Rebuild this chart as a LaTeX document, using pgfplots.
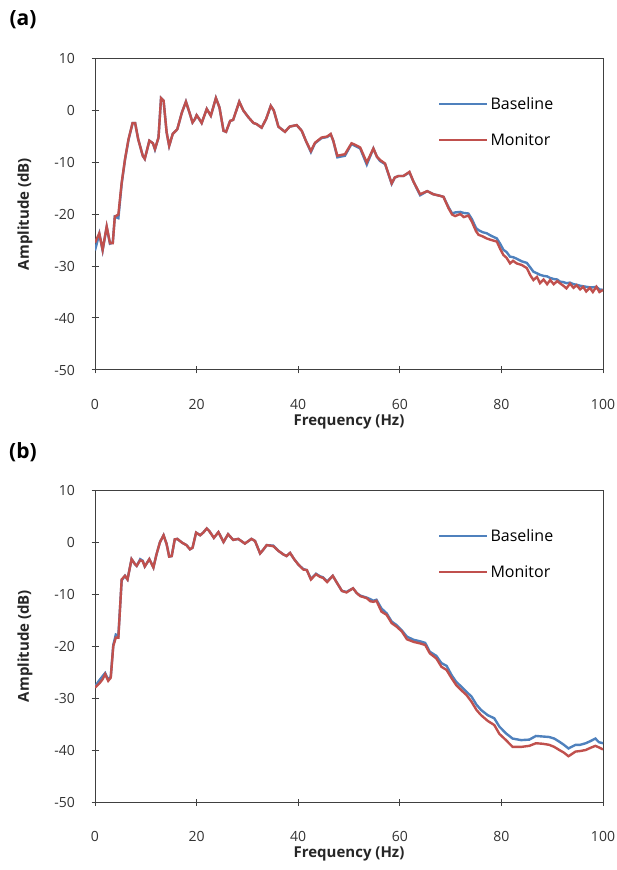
\documentclass[border=0pt]{standalone}
\usepackage{fontspec}
\setmainfont{Open Sans}
\usepackage{pgfplots}
\usepackage{pgfplotstable}
\pgfplotsset{compat=1.18}

\definecolor{xlblue}{RGB}{79,129,189}
\definecolor{xlred}{RGB}{192,80,77}

% panel (a): frequency, baseline, monitor
\pgfplotstableread{
f b m
0 -27.0 -25.5
0.85 -23.8 -23.7
1.5 -27.0 -26.9
2.3 -22.5 -22.4
2.95 -25.7 -25.6
3.5 -25.5 -25.6
3.9 -20.5 -20.5
4.6 -20.8 -20.1
5.25 -14.2 -14.0
5.9 -9.6 -9.5
6.6 -5.7 -5.6
7.4 -2.5 -2.5
7.9 -2.5 -2.5
8.5 -5.6 -5.6
9.4 -8.8 -8.8
9.8 -9.4 -9.4
10.7 -5.9 -5.9
11.4 -6.4 -6.4
11.8 -7.6 -7.5
12.5 -5.3 -5.3
13.0 2.3 2.3
13.5 1.8 1.8
14.1 -4.3 -4.3
14.6 -6.9 -6.9
15.3 -4.6 -4.6
16.2 -3.7 -3.7
17.1 -0.5 -0.5
17.9 1.6 1.6
18.6 -0.5 -0.5
19.2 -2.4 -2.4
19.7 -1.7 -1.7
20.0 -1.0 -1.0
20.5 -1.7 -1.7
21.0 -2.5 -2.5
22.0 0.2 0.2
22.8 -1.1 -1.1
23.8 2.3 2.3
24.5 0.5 0.5
25.3 -4.0 -4.0
25.8 -4.2 -4.2
26.6 -2.1 -2.1
27.2 -1.9 -1.9
28.4 1.6 1.6
29.2 -0.1 -0.1
30.2 -1.4 -1.4
31.2 -2.5 -2.5
31.8 -2.7 -2.7
32.8 -3.4 -3.4
33.7 -1.7 -1.7
34.6 0.8 0.8
35.2 -0.1 -0.1
36.1 -3.2 -3.2
37.4 -4.2 -4.2
38.3 -3.2 -3.2
39.7 -2.9 -2.9
40.7 -4.0 -4.0
41.5 -5.9 -5.9
42.5 -8.1 -7.9
43.3 -6.4 -6.3
44.6 -5.4 -5.3
45.7 -5.2 -5.1
46.4 -4.7 -4.6
46.9 -5.9 -5.9
47.7 -9.1 -8.8
49.2 -8.8 -8.5
50.5 -6.5 -6.4
51.0 -6.8 -6.6
52.2 -7.4 -7.2
53.5 -10.5 -10.1
54.8 -7.4 -7.4
55.5 -9.0 -9.0
56.1 -9.8 -9.6
57.1 -10.4 -10.3
58.4 -14.2 -14.1
59.0 -13.0 -13.0
59.7 -12.7 -12.7
60.7 -12.7 -12.7
61.9 -12.0 -11.9
62.7 -13.8 -13.8
64.0 -16.4 -16.2
65.4 -15.6 -15.6
66.6 -16.2 -16.2
67.9 -16.5 -16.5
68.6 -16.7 -16.7
69.6 -18.7 -18.9
70.3 -19.9 -20.1
70.9 -19.7 -20.4
71.9 -19.6 -20.0
72.6 -19.8 -20.6
73.5 -19.9 -20.3
74.2 -21.0 -21.5
75.0 -22.7 -23.3
75.5 -23.1 -24.0
76.3 -23.5 -24.3
77.1 -23.7 -24.7
78.0 -24.2 -25.0
79.1 -24.7 -25.3
79.8 -25.8 -26.8
80.4 -26.9 -27.9
81.0 -27.3 -28.4
81.7 -28.2 -29.5
82.3 -28.3 -29.0
83.0 -28.6 -29.5
84.0 -29.1 -29.8
85.0 -29.4 -30.4
85.7 -30.3 -31.8
86.3 -31.1 -32.7
87.0 -31.4 -32.1
87.6 -31.7 -33.3
88.3 -31.9 -32.6
89.0 -32.0 -33.5
89.6 -32.3 -32.7
90.3 -32.5 -33.5
91.0 -32.6 -32.9
91.5 -33.0 -33.3
92.2 -33.1 -33.8
92.8 -33.3 -34.3
93.5 -33.2 -33.4
94.2 -33.5 -34.2
94.8 -33.6 -33.7
95.5 -33.8 -34.5
96.1 -33.9 -34.0
96.7 -34.0 -34.9
97.4 -34.1 -34.2
98.0 -34.1 -35.0
98.7 -34.0 -34.0
99.3 -34.5 -35.0
100 -34.6 -34.6
}\panela

% panel (b)
\pgfplotstableread{
f b m
0 -27.8 -28.0
0.85 -26.6 -27.2
1.5 -25.8 -26.4
2.0 -25.2 -25.4
2.6 -26.5 -26.7
3.1 -25.9 -26.1
3.6 -19.8 -20.0
4.1 -17.8 -18.4
4.6 -18.0 -18.4
5.25 -7.4 -7.2
5.9 -6.5 -6.5
6.4 -7.2 -7.2
7.2 -3.3 -3.3
7.9 -4.3 -4.3
8.2 -4.6 -4.6
8.9 -3.3 -3.5
9.4 -3.6 -3.7
9.8 -4.7 -4.7
10.7 -3.3 -3.3
11.5 -4.9 -4.9
12.1 -2.4 -2.4
12.8 0.0 0.0
13.5 1.3 1.3
14.1 -0.4 -0.4
14.6 -2.8 -2.8
15.1 -2.7 -2.7
15.7 0.5 0.5
16.2 0.6 0.6
17.1 -0.1 -0.1
18.0 -0.6 -0.6
18.7 -1.4 -1.4
19.2 -1.1 -1.1
19.9 1.8 1.8
20.7 1.3 1.3
21.3 1.8 1.8
22.0 2.6 2.6
22.5 2.1 2.1
23.4 0.8 0.8
24.3 1.9 1.9
25.3 0.0 0.0
26.2 1.5 1.5
27.2 0.4 0.4
28.2 0.6 0.6
29.5 -0.3 -0.3
30.8 0.6 0.6
31.5 0.2 0.2
32.5 -2.2 -2.2
33.1 -1.5 -1.5
33.8 -0.6 -0.6
35.1 -0.7 -0.8
36.1 -1.7 -1.7
37.1 -2.4 -2.4
37.7 -2.7 -2.7
38.4 -2.1 -2.1
39.2 -3.3 -3.3
40.0 -4.3 -4.3
41.0 -5.2 -5.3
41.7 -5.4 -5.4
42.5 -7.1 -7.2
43.5 -6.1 -6.2
44.3 -6.6 -6.7
44.9 -6.8 -6.9
45.7 -7.6 -7.7
46.8 -6.5 -6.5
47.6 -7.8 -7.8
48.6 -9.4 -9.4
49.5 -9.6 -9.7
50.8 -8.9 -8.9
51.5 -9.8 -9.8
52.2 -10.3 -10.4
53.5 -10.7 -10.8
54.2 -11.0 -11.4
54.8 -11.3 -11.5
55.4 -11.1 -11.3
56.4 -12.8 -13.4
57.4 -13.7 -14.0
58.4 -15.3 -15.6
59.4 -16.0 -16.3
60.4 -17.0 -17.2
61.4 -18.2 -18.7
62.7 -18.8 -19.2
64.0 -19.1 -19.5
65.0 -19.4 -19.8
65.9 -21.1 -21.4
67.2 -21.9 -22.4
68.2 -23.3 -24.0
69.2 -23.8 -24.6
70.2 -25.6 -26.2
71.1 -26.9 -27.5
72.1 -27.8 -28.5
73.1 -28.8 -29.4
74.1 -29.7 -30.7
75.1 -31.3 -32.3
76.0 -32.3 -33.3
77.3 -33.3 -34.4
78.6 -33.9 -35.2
79.6 -35.5 -36.9
80.9 -36.8 -38.1
82.2 -37.8 -39.4
83.9 -38.1 -39.4
85.5 -38.0 -39.2
86.8 -37.3 -38.7
88.1 -37.4 -38.8
89.4 -37.5 -39.0
90.4 -37.8 -39.4
91.4 -38.4 -40.0
92.3 -39.0 -40.5
93.2 -39.7 -41.2
94.6 -39.0 -40.3
95.5 -39.0 -40.2
96.6 -38.7 -40.0
97.5 -38.3 -39.6
98.5 -37.8 -39.2
99.2 -38.5 -39.5
100 -38.7 -39.9
}\panelb

\pgfplotsset{
  panel/.style={
    scale only axis, width=508pt, height=312pt,
    xmin=0, xmax=100, ymin=-50, ymax=10,
    xtick={0,20,...,100}, ytick={-50,-40,...,10},
    xtick pos=left, ytick pos=left,
    tick align=center, major tick length=7pt,
    axis line style={black!75, line width=1pt},
    tick style={black!75, line width=1pt},
    ticklabel style={font=\fontsize{14}{16}\selectfont, text=black!80},
    /pgf/number format/assume math mode=true,
    xticklabel shift=22pt, yticklabel shift=13pt,
    xlabel={Frequency (Hz)}, ylabel={Amplitude (dB)},
    every axis x label/.style={at={(rel axis cs:0.5,-0.165)}, anchor=center,
      font=\bfseries\fontsize{15}{18}\selectfont, text=black!85},
    every axis y label/.style={at={(rel axis cs:-0.138,0.5)}, anchor=center, rotate=90,
      font=\bfseries\fontsize{15}{18}\selectfont, text=black!85},
    legend style={at={(0.675,0.882)}, anchor=north west, draw=none, fill=none,
      font=\fontsize{16}{19}\selectfont, row sep=19pt, inner sep=0pt,
      /tikz/every even column/.append style={column sep=10pt}},
    legend cell align=left,
    legend image code/.code={\draw[#1] (0pt,0pt) -- (48pt,0pt);},
  },
}

\begin{document}
\begin{tikzpicture}[x=1pt,y=1pt]
\useasboundingbox (0,0) rectangle (617,-870);
\node[font=\bfseries\fontsize{21}{24}\selectfont] at (23,-20) {(a)};
\begin{axis}[panel, at={(95pt,-58pt)}, anchor=north west]
\addplot[xlblue, line width=2.4pt, mark=none] table[x=f, y=b] {\panela};
\addlegendentry{Baseline}
\addplot[xlred, line width=2.4pt, mark=none] table[x=f, y=m] {\panela};
\addlegendentry{Monitor}
\end{axis}
\node[font=\bfseries\fontsize{21}{24}\selectfont] at (23,-452) {(b)};
\begin{axis}[panel, at={(95pt,-490pt)}, anchor=north west]
\addplot[xlblue, line width=2.4pt, mark=none] table[x=f, y=b] {\panelb};
\addlegendentry{Baseline}
\addplot[xlred, line width=2.4pt, mark=none] table[x=f, y=m] {\panelb};
\addlegendentry{Monitor}
\end{axis}
\end{tikzpicture}
\end{document}
